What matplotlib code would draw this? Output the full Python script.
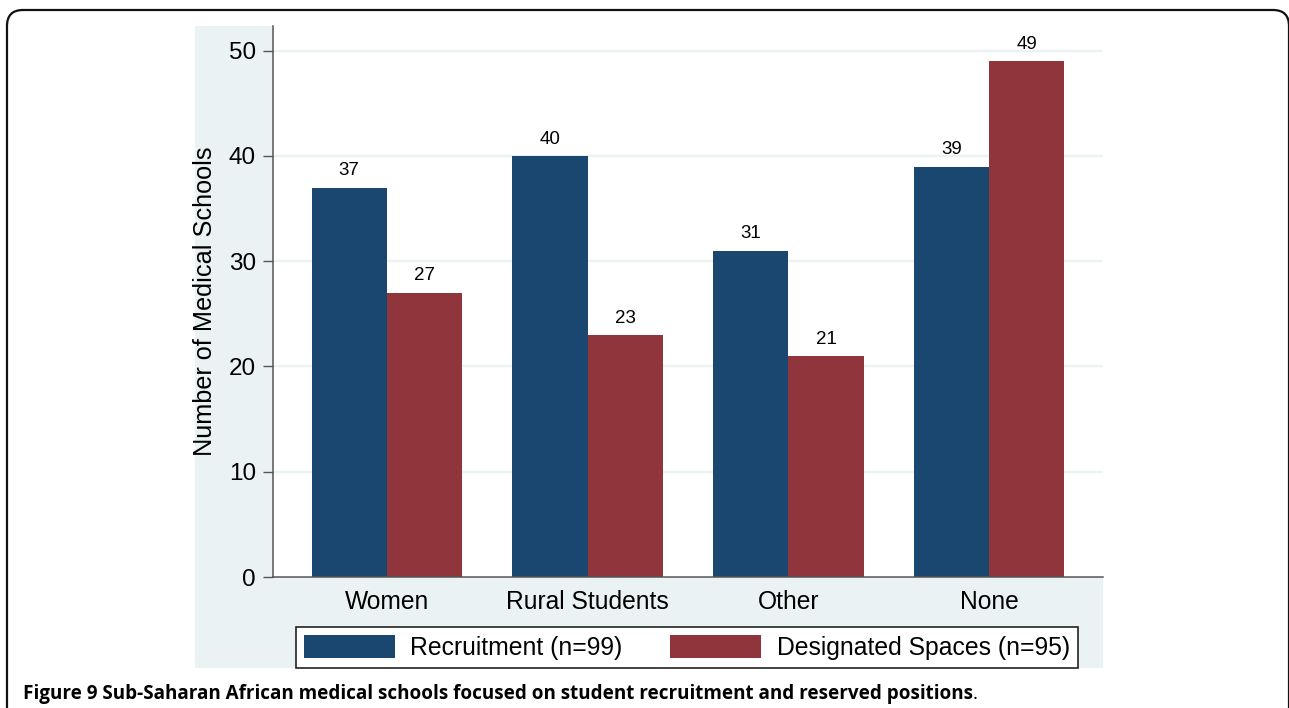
import matplotlib
matplotlib.use("Agg")
import matplotlib.pyplot as plt
from matplotlib.patches import Rectangle, FancyBboxPatch, Patch
from matplotlib.transforms import IdentityTransform
import numpy as np

categories = ["Women", "Rural Students", "Other", "None"]
recruitment = [37, 40, 31, 39]
designated = [27, 23, 21, 49]
series_names = ["Recruitment (n=99)", "Designated Spaces (n=95)"]
yticks = [0, 10, 20, 30, 40, 50]
ylabel = "Number of Medical Schools"
caption_bold = "Figure 9 Sub-Saharan African medical schools focused on student recruitment and reserved positions"
caption_end = "."

NAVY = "#1a476f"
MAROON = "#90353b"
PANEL = "#eaf2f3"
AXC = "#555555"

W, H = 1289, 708
fig = plt.figure(figsize=(W / 100, H / 100), dpi=100)
plt.rcParams['font.family'] = ['Liberation Sans', 'DejaVu Sans']

def fx(px):
    return px / W

def fy(py_top):
    return (H - py_top) / H

# outer rounded frame (page box)
frame = FancyBboxPatch((7, -40), 1282, H - 10 + 40,
                       boxstyle="round,pad=0,rounding_size=16",
                       transform=IdentityTransform(), fill=False,
                       edgecolor="#111111", linewidth=1.6, zorder=-2)
fig.patches.append(frame)

# stata-like light panel
panel = Rectangle((fx(195), fy(668)), fx(1103) - fx(195), fy(26) - fy(668),
                  transform=fig.transFigure, facecolor=PANEL, edgecolor="none", zorder=-2)
fig.patches.append(panel)

ax = fig.add_axes([fx(273), fy(577), fx(1103) - fx(273), fy(26) - fy(577)])
ax.set_facecolor("white")
ax.set_zorder(1)

x = np.arange(len(categories))
w = 0.375
b1 = ax.bar(x - w / 2, recruitment, w, color=NAVY, label=series_names[0], zorder=3)
b2 = ax.bar(x + w / 2, designated, w, color=MAROON, label=series_names[1], zorder=3)
ax.bar_label(b1, padding=6, fontsize=13.5, zorder=4)
ax.bar_label(b2, padding=6, fontsize=13.5, zorder=4)

ax.set_xlim(-0.567, 3.567)
ax.set_ylim(0, 52.35)
ax.set_yticks(yticks)
ax.set_xticks(x)
ax.set_xticklabels(categories, fontsize=17.7)
ax.tick_params(axis='x', length=0, pad=9.3)
ax.tick_params(axis='y', length=7.2, width=1.0, color=AXC, pad=5, labelsize=17.5)
for t in yticks[1:]:
    ax.axhline(t, color=PANEL, linewidth=1.7, zorder=1)

for s in ["top", "right"]:
    ax.spines[s].set_visible(False)
for s in ["left", "bottom"]:
    ax.spines[s].set_color(AXC)
    ax.spines[s].set_linewidth(1.1)
    ax.spines[s].set_zorder(5)

ax.set_ylabel(ylabel, fontsize=18.2, va='center')
ax.yaxis.set_label_coords((205 - 273) / 830, 0.5)

leg = ax.legend(handles=[Patch(facecolor=NAVY), Patch(facecolor=MAROON)],
                labels=series_names, ncol=2, loc='lower left', mode='expand',
                bbox_to_anchor=(fx(296), fy(668), fx(1078) - fx(296), fy(623) - fy(668)),
                bbox_transform=fig.transFigure, borderaxespad=0,
                fontsize=17.8, handlelength=3.68, handleheight=1.02,
                handletextpad=0.62, borderpad=0.33, columnspacing=1.6,
                frameon=True, fancybox=False, shadow=False)
leg.get_frame().set_edgecolor("#222222")
leg.get_frame().set_linewidth(1.2)
leg.get_frame().set_alpha(None)
leg.get_frame().set_facecolor("white")

t1 = fig.text(fx(23), fy(699), caption_bold, fontsize=13.55, fontweight='bold',
              family=['Open Sans', 'DejaVu Sans'], va='baseline', ha='left')
fig.canvas.draw()
bb = t1.get_window_extent()
fig.text(bb.x1 / W, fy(699), caption_end, fontsize=13.55,
         family=['Open Sans', 'DejaVu Sans'], va='baseline', ha='left')

fig.savefig("out.png", dpi=100)
